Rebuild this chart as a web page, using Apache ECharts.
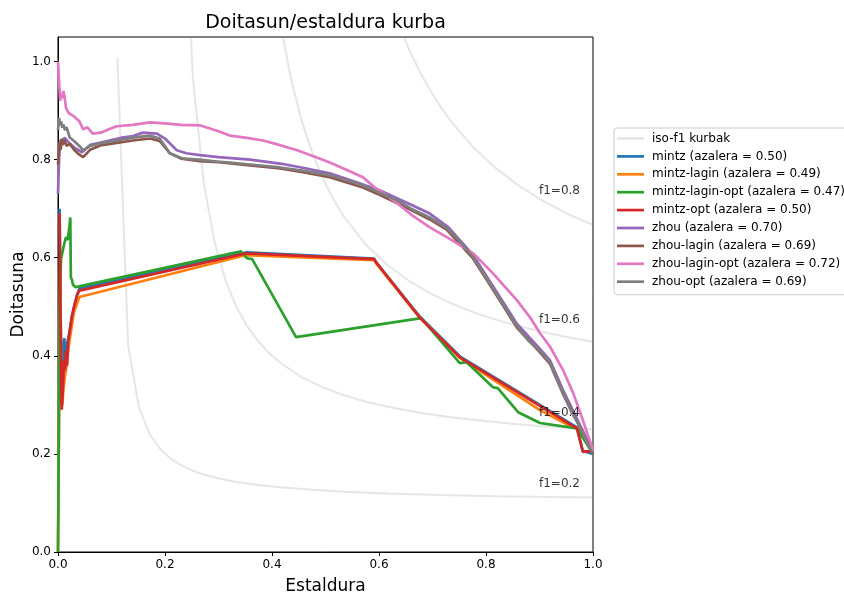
<!DOCTYPE html>
<html>
<head>
<meta charset="utf-8">
<script src="https://cdn.jsdelivr.net/npm/echarts@6/dist/echarts.min.js"></script>
<style>html,body{margin:0;padding:0;background:#fff}#c{width:844px;height:594px}</style>
</head>
<body>
<div id="c"></div>
<script>
// ---------- data ----------
const xTicks = [0, 0.2, 0.4, 0.6, 0.8, 1.0];
const yTicks = [0, 0.2, 0.4, 0.6, 0.8, 1.0];

const isoF02 = [[0.1110,1.0074],[0.1312,0.4203],[0.1514,0.2944],[0.1716,0.2396],[0.1918,0.2089],[0.2120,0.1893],[0.2322,0.1756],[0.2524,0.1656],[0.2727,0.1579],[0.2929,0.1518],[0.3333,0.1429],[0.3737,0.1365],[0.4141,0.1318],[0.4747,0.1267],[0.5353,0.1230],[0.6161,0.1194],[0.7171,0.1162],[0.8182,0.1139],[0.9192,0.1122],[1.0,0.1111]];
const isoF04 = [[0.2322,1.4407],[0.2524,0.9626],[0.2727,0.7506],[0.2929,0.6308],[0.3131,0.5538],[0.3333,0.5001],[0.3535,0.4606],[0.3737,0.4303],[0.3939,0.4063],[0.4141,0.3868],[0.4545,0.3572],[0.4949,0.3356],[0.5353,0.3193],[0.5757,0.3065],[0.6161,0.2961],[0.6767,0.2839],[0.7373,0.2744],[0.7980,0.2669],[0.8586,0.2607],[0.9192,0.2556],[1.0,0.25]];
const isoF06 = [[0.3939,1.2587],[0.4141,1.0889],[0.4343,0.9702],[0.4545,0.8826],[0.4747,0.8152],[0.4949,0.7618],[0.5151,0.7184],[0.5353,0.6825],[0.5757,0.6264],[0.6161,0.5847],[0.6565,0.5524],[0.6969,0.5267],[0.7373,0.5058],[0.7778,0.4884],[0.8182,0.4737],[0.8586,0.4611],[0.9192,0.4453],[0.9596,0.4365],[1.0,0.4286]];
const isoF08 = [[0.6161,1.1403],[0.6363,1.0770],[0.6565,1.0237],[0.6767,0.9782],[0.6969,0.9388],[0.7171,0.9045],[0.7373,0.8743],[0.7778,0.8235],[0.8182,0.7826],[0.8586,0.7489],[0.8990,0.7207],[0.9192,0.7082],[0.9596,0.6859],[1.0,0.6667]];
const isoLabelPos = [[0.9,0.1322],[0.9,0.2756],[0.9,0.4653],[0.9,0.7282]];
const isoLabelText = ['f1=0.2','f1=0.4','f1=0.6','f1=0.8'];

const mintz = [[0.003,0.70],[0.004,0.58],[0.005,0.48],[0.007,0.30],[0.009,0.36],[0.011,0.43],[0.012,0.436],[0.013,0.38],[0.016,0.42],[0.02,0.44],[0.026,0.48],[0.03,0.50],[0.036,0.525],[0.04,0.537],[0.353,0.611],[0.591,0.598],[0.595,0.59],[0.677,0.479],[0.751,0.399],[0.970,0.254],[0.981,0.206],[1.0,0.2]];
const mintzLagin = [[0,0],[0.002,0.30],[0.004,0.60],[0.006,0.35],[0.008,0.30],[0.010,0.33],[0.013,0.36],[0.016,0.38],[0.020,0.42],[0.030,0.49],[0.040,0.52],[0.350,0.605],[0.591,0.595],[0.595,0.588],[0.677,0.477],[0.751,0.396],[0.900,0.290],[0.960,0.255],[0.975,0.250],[1.0,0.2]];
const mintzLaginOpt = [[0,0],[0.002,0.30],[0.004,0.56],[0.006,0.60],[0.009,0.615],[0.012,0.63],[0.015,0.642],[0.018,0.636],[0.021,0.66],[0.023,0.682],[0.024,0.56],[0.026,0.555],[0.028,0.545],[0.033,0.54],[0.342,0.613],[0.353,0.599],[0.363,0.597],[0.445,0.438],[0.679,0.477],[0.751,0.385],[0.764,0.387],[0.813,0.336],[0.822,0.334],[0.860,0.285],[0.901,0.263],[0.970,0.252],[1.0,0.2]];
const mintzOpt = [[0.003,0.69],[0.004,0.55],[0.005,0.45],[0.006,0.35],[0.007,0.29],[0.009,0.33],[0.011,0.39],[0.013,0.37],[0.015,0.41],[0.017,0.38],[0.019,0.43],[0.022,0.45],[0.026,0.48],[0.030,0.50],[0.036,0.525],[0.040,0.533],[0.353,0.609],[0.591,0.597],[0.595,0.59],[0.677,0.477],[0.751,0.397],[0.970,0.252],[0.981,0.204],[0.998,0.206],[1.0,0.2]];

const zhou = [[0,0.73],[0.002,0.80],[0.004,0.84],[0.008,0.83],[0.012,0.845],[0.02,0.835],[0.03,0.825],[0.045,0.815],[0.06,0.83],[0.08,0.835],[0.10,0.84],[0.12,0.845],[0.14,0.848],[0.159,0.855],[0.185,0.853],[0.20,0.843],[0.222,0.819],[0.24,0.813],[0.265,0.809],[0.30,0.805],[0.359,0.80],[0.415,0.792],[0.46,0.783],[0.508,0.772],[0.55,0.757],[0.602,0.737],[0.65,0.713],[0.695,0.69],[0.73,0.662],[0.776,0.605],[0.82,0.53],[0.858,0.465],[0.90,0.415],[0.92,0.39],[0.944,0.33],[0.976,0.258],[1.0,0.205]];
const zhouLagin = [[0,0.79],[0.003,0.835],[0.005,0.82],[0.007,0.843],[0.009,0.83],[0.012,0.84],[0.016,0.828],[0.022,0.832],[0.03,0.82],[0.04,0.81],[0.047,0.805],[0.06,0.82],[0.079,0.829],[0.11,0.834],[0.14,0.839],[0.172,0.843],[0.19,0.838],[0.209,0.813],[0.23,0.802],[0.265,0.797],[0.30,0.795],[0.359,0.788],[0.415,0.782],[0.46,0.774],[0.508,0.764],[0.57,0.743],[0.602,0.728],[0.65,0.703],[0.695,0.678],[0.727,0.657],[0.776,0.598],[0.82,0.523],[0.858,0.457],[0.90,0.408],[0.92,0.383],[0.944,0.322],[0.976,0.253],[1.0,0.2]];
const zhouLaginOpt = [[0,1.0],[0.002,0.96],[0.004,0.92],[0.006,0.935],[0.008,0.925],[0.010,0.94],[0.012,0.93],[0.015,0.905],[0.02,0.895],[0.03,0.888],[0.04,0.878],[0.047,0.862],[0.055,0.866],[0.065,0.853],[0.08,0.855],[0.095,0.862],[0.11,0.868],[0.14,0.871],[0.172,0.876],[0.20,0.874],[0.23,0.871],[0.265,0.870],[0.30,0.858],[0.321,0.849],[0.35,0.845],[0.383,0.839],[0.41,0.831],[0.447,0.819],[0.48,0.806],[0.508,0.794],[0.54,0.779],[0.57,0.764],[0.59,0.745],[0.61,0.73],[0.634,0.711],[0.66,0.688],[0.695,0.662],[0.73,0.64],[0.776,0.609],[0.813,0.568],[0.858,0.513],[0.882,0.479],[0.901,0.446],[0.92,0.418],[0.944,0.371],[0.963,0.324],[0.981,0.269],[0.998,0.214],[1.0,0.205]];
const zhouOpt = [[0,0.86],[0.002,0.885],[0.004,0.87],[0.006,0.878],[0.008,0.865],[0.010,0.872],[0.013,0.86],[0.016,0.866],[0.022,0.845],[0.03,0.838],[0.04,0.828],[0.047,0.819],[0.06,0.828],[0.079,0.833],[0.11,0.839],[0.14,0.845],[0.172,0.849],[0.19,0.843],[0.209,0.813],[0.234,0.802],[0.265,0.80],[0.297,0.796],[0.321,0.794],[0.359,0.79],[0.415,0.784],[0.46,0.777],[0.508,0.768],[0.54,0.758],[0.57,0.747],[0.60,0.733],[0.634,0.717],[0.66,0.70],[0.695,0.682],[0.727,0.66],[0.75,0.635],[0.776,0.601],[0.82,0.525],[0.858,0.46],[0.88,0.43],[0.90,0.411],[0.92,0.385],[0.944,0.324],[0.96,0.285],[0.976,0.255],[0.99,0.22],[1.0,0.202]];

const seriesNames = ['mintz (azalera = 0.50)','mintz-lagin (azalera = 0.49)','mintz-lagin-opt (azalera = 0.47)','mintz-opt (azalera = 0.50)','zhou (azalera = 0.70)','zhou-lagin (azalera = 0.69)','zhou-lagin-opt (azalera = 0.72)','zhou-opt (azalera = 0.69)'];
const seriesData = [mintz, mintzLagin, mintzLaginOpt, mintzOpt, zhou, zhouLagin, zhouLaginOpt, zhouOpt];
const seriesColors = ['#1f77b4','#ff7f0e','#2ca02c','#d62728','#9467bd','#8c564b','#e377c2','#7f7f7f'];
const isoName = 'iso-f1 kurbak';

// ---------- chart ----------
const FONT = 'DejaVu Sans';
const chart = echarts.init(document.getElementById('c'), null, {renderer: 'canvas'});
const series = [];
[isoF02, isoF04, isoF06, isoF08].forEach(d => {
  series.push({name: isoName, type: 'line', data: d, symbol: 'none', showSymbol: false, clip: true,
    lineStyle: {color: 'rgba(128,128,128,0.2)', width: 2}, itemStyle: {color: 'rgba(128,128,128,0.2)'},
    silent: true, z: 1});
});
series.push({type: 'scatter', name: 'labels', data: isoLabelPos.map((p, i) => ({value: p, name: isoLabelText[i]})),
  symbolSize: 1, itemStyle: {color: 'rgba(0,0,0,0)'}, silent: true, z: 5,
  label: {show: true, formatter: p => p.name, position: [0, 3], align: 'left', verticalAlign: 'bottom',
    color: '#000', fontSize: 12, fontFamily: FONT}});
seriesData.forEach((d, i) => {
  series.push({name: seriesNames[i], type: 'line', data: d, symbol: 'none', showSymbol: false, clip: true,
    lineStyle: {color: seriesColors[i], width: 2.7}, itemStyle: {color: seriesColors[i]}, z: 2 + i * 0.01});
});

const axisCommon = {
  type: 'value', min: 0,
  axisLine: {show: true, onZero: false, lineStyle: {color: '#000', width: 1}},
  axisTick: {show: true, inside: false, length: 4, lineStyle: {color: '#000', width: 1}},
  splitLine: {show: false},
  nameTextStyle: {color: '#000', fontSize: 17, fontFamily: FONT},
  nameLocation: 'middle',
  nameMoveOverlap: false
};

chart.setOption({
  animation: false,
  backgroundColor: '#fff',
  title: {text: 'Doitasun/estaldura kurba', left: 320.5, top: 9, textAlign: 'center',
    textStyle: {color: '#000', fontSize: 19, fontWeight: 'normal', fontFamily: FONT}},
  grid: {left: 58, right: 251, top: 37, bottom: 42, show: true, borderColor: '#000', borderWidth: 1,
    backgroundColor: 'transparent', containLabel: false, outerBoundsMode: 'none'},
  legend: {
    data: [isoName].concat(seriesNames),
    orient: 'vertical', left: 614, top: 128,
    icon: 'rect', itemWidth: 27, itemHeight: 2.7, itemGap: 5.9,
    padding: [4.5, 6, 7, 3],
    backgroundColor: '#fff', borderColor: '#cccccc', borderWidth: 1, borderRadius: 3,
    textStyle: {color: '#000', fontSize: 12, fontFamily: FONT, padding: [0, 0, 0, 3]},
    selectedMode: false
  },
  xAxis: Object.assign({}, axisCommon, {max: 1, interval: 0.2, name: 'Estaldura', nameGap: 26,
    axisTick: Object.assign({}, axisCommon.axisTick, {customValues: xTicks}),
    axisLabel: {customValues: xTicks, formatter: v => v.toFixed(1), color: '#000', fontSize: 12, fontFamily: FONT, margin: 7}}),
  yAxis: Object.assign({}, axisCommon, {max: 1.05, interval: 0.2, name: 'Doitasuna', nameGap: 31,
    axisTick: Object.assign({}, axisCommon.axisTick, {customValues: yTicks}),
    axisLabel: {customValues: yTicks, formatter: v => v.toFixed(1), color: '#000', fontSize: 12, fontFamily: FONT, margin: 7}}),
  series: series
});
</script>
</body>
</html>
